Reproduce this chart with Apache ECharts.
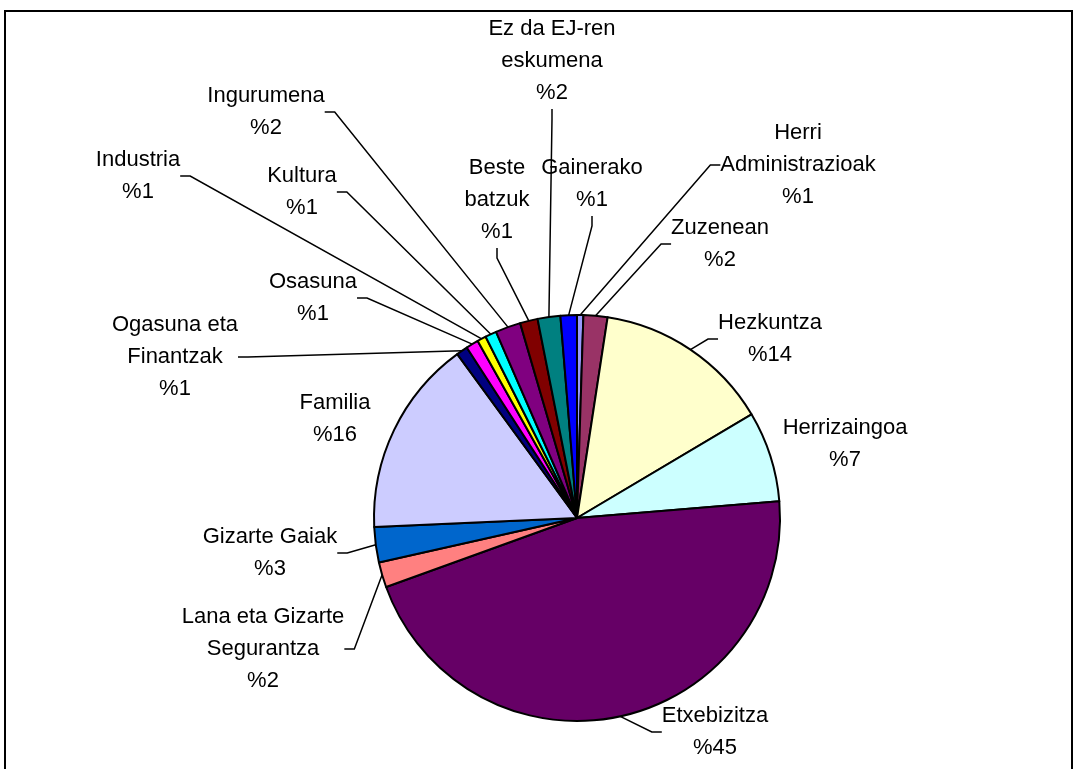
<!DOCTYPE html>
<html>
<head>
<meta charset="utf-8">
<script src="https://cdn.jsdelivr.net/npm/echarts@6/dist/echarts.min.js"></script>
<style>
  html, body { margin: 0; padding: 0; background: #fff; }
  #chart { width: 1078px; height: 769px; }
</style>
</head>
<body>
<div id="chart"></div>
<script>
  // slices clockwise from 12 o'clock
  const categories = [
    'Herri\nAdministrazioak', 'Zuzenean', 'Hezkuntza', 'Herrizaingoa', 'Etxebizitza',
    'Lana eta Gizarte\nSegurantza', 'Gizarte Gaiak', 'Familia', 'Ogasuna eta\nFinantzak',
    'Osasuna', 'Industria', 'Kultura', 'Ingurumena', 'Beste\nbatzuk',
    'Ez da EJ-ren\neskumena', 'Gainerako'
  ]
  const values = [0.5, 1.9, 14.0, 7.2, 45.6, 2.0, 2.8, 15.6, 0.9, 1.0, 0.7, 0.9, 2.0, 1.4, 1.8, 1.3]
  const pctLabels = ['%1', '%2', '%14', '%7', '%45', '%2', '%3', '%16', '%1', '%1', '%1', '%1', '%2', '%1', '%2', '%1']

  const colors = [
    '#9999ff', '#993366', '#ffffcc', '#ccffff', '#660066', '#ff8080', '#0066cc', '#ccccff',
    '#000080', '#ff00ff', '#ffff00', '#00ffff', '#800080', '#800000', '#008080', '#0000ff'
  ]
  // label block centres
  const labelPos = [
    [798, 165], [720, 244], [770, 339], [845, 444], [715, 732],
    [263, 649], [270, 553], [335, 419], [175, 357],
    [313, 298], [138, 176], [302, 192], [266, 112], [497, 200],
    [552, 61], [592, 184]
  ]
  // labels sitting right at the pie, no leader line
  const noLeader = ['Herrizaingoa', 'Familia']

  const chart = echarts.init(document.getElementById('chart'), null, { renderer: 'canvas' })

  const option = {
    animation: false,
    color: colors,
    graphic: [{
      type: 'rect',
      shape: { x: 5, y: 11, width: 1067, height: 800 },
      style: { fill: 'none', stroke: '#000', lineWidth: 2 },
      silent: true
    }],
    series: [{
      type: 'pie',
      center: [577, 518],
      radius: 203,
      startAngle: 90,
      clockwise: true,
      avoidLabelOverlap: false,
      itemStyle: { borderColor: '#000', borderWidth: 2 },
      label: {
        show: true,
        position: 'outside',
        color: '#000',
        fontFamily: 'Liberation Sans, Arial, sans-serif',
        fontSize: 22,
        lineHeight: 32,
        align: 'center',
        formatter: p => p.name + '\n' + pctLabels[p.dataIndex]
      },
      labelLine: {
        show: true,
        length: 10,
        length2: 10,
        lineStyle: { color: '#000', width: 1.5 }
      },
      labelLayout: p => ({
        x: labelPos[p.dataIndex][0],
        y: labelPos[p.dataIndex][1],
        align: 'center',
        verticalAlign: 'middle'
      }),
      emphasis: { disabled: true },
      data: categories.map((c, i) => ({
        name: c,
        value: values[i],
        labelLine: { show: noLeader.indexOf(c) < 0 }
      }))
    }]
  }

  chart.setOption(option)
</script>
</body>
</html>
